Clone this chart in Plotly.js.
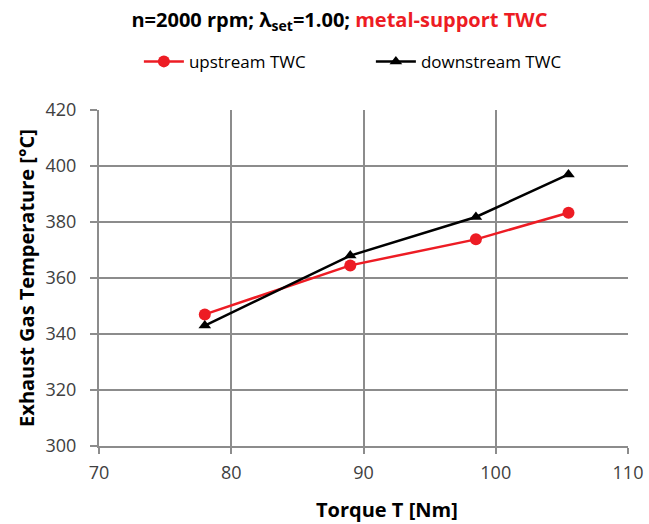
<!DOCTYPE html>
<html><head><meta charset="utf-8">
<script src="https://cdn.plot.ly/plotly-3.0.1.min.js"></script>
<style>body{margin:0;background:#fff}#c{width:649px;height:524px}</style>
</head><body><div id="c"></div>
<script>
const torque = [78.0, 89.0, 98.5, 105.5];
const upstream = [347.0, 364.5, 373.8, 383.3];
const downstream = [343.0, 368.0, 381.8, 397.0];
const seriesNames = ["upstream TWC", "downstream TWC"];
const xTicks = [70, 80, 90, 100, 110];
const yTicks = [300, 320, 340, 360, 380, 400, 420];

const font = "Open Sans, Noto Sans, sans-serif";
const traces = [
  {x: torque, y: upstream, name: seriesNames[0], mode: "lines+markers",
   line: {color: "#ed1c24", width: 2.5}, marker: {symbol: "circle", size: 12, color: "#ed1c24"}},
  {x: torque, y: downstream, name: seriesNames[1], mode: "lines+markers",
   line: {color: "#000000", width: 2.5}, marker: {symbol: "triangle-up", size: 11, color: "#000000"}}
];
const layout = {
  width: 649, height: 524,
  margin: {l: 99, r: 21, t: 110, b: 78},
  paper_bgcolor: "#fff", plot_bgcolor: "#fff",
  font: {family: font, color: "#404040", size: 18},
  title: {text: "<b>n=2000 rpm; λ<sub>set</sub>=1.00; <span style='color:#ed1c24'>metal-support TWC</span></b>",
          font: {family: font, size: 20, color: "#000"}, x: 0.523, xanchor: "center", y: 0.976, yanchor: "top"},
  showlegend: true,
  legend: {orientation: "h", xref: "container", yref: "container", x: 0.214, xanchor: "left", y: 0.882, yanchor: "middle",
           font: {family: font, size: 17, color: "#000"}, itemwidth: 40, entrywidth: 177, entrywidthmode: "pixels"},
  xaxis: {range: [70, 110], tickvals: xTicks, showgrid: true, gridcolor: "#8c8c8c", gridwidth: 2,
          showline: true, linecolor: "#8c8c8c", linewidth: 2, ticks: "outside", ticklen: 6, tickcolor: "#8c8c8c", tickwidth: 2,
          ticklabelstandoff: 3, zeroline: false},
  yaxis: {range: [300, 420], tickvals: yTicks, showgrid: true, gridcolor: "#8c8c8c", gridwidth: 2,
          showline: true, linecolor: "#8c8c8c", linewidth: 2, ticks: "outside", ticklen: 7, tickcolor: "#8c8c8c", tickwidth: 2,
          ticklabelstandoff: 10, zeroline: false,
          title: {text: "<b>Exhaust Gas Temperature [°C]</b>", font: {family: font, size: 20, color: "#000"}, standoff: 6}},
  annotations: [{text: "<b>Torque T [Nm]</b>", xref: "paper", yref: "paper", x: 0.545, y: -0.19,
                 xanchor: "center", yanchor: "middle", showarrow: false, font: {family: font, size: 20, color: "#000"}}]
};
Plotly.newPlot("c", traces, layout, {displayModeBar: false, staticPlot: true});
</script></body></html>
